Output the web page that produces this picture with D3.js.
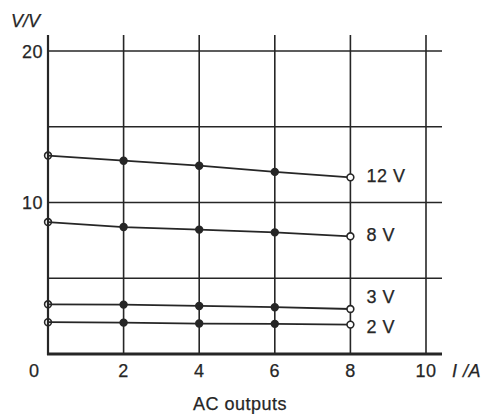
<!DOCTYPE html>
<html><head><meta charset="utf-8">
<script src="https://cdn.jsdelivr.net/npm/d3@7/dist/d3.min.js"></script>
<style>
html,body{margin:0;padding:0;background:#fff;}
svg{display:block;font-family:"Liberation Sans",Arial,Helvetica,sans-serif;}
svg text{stroke:#262626;stroke-width:0.25px;}
</style></head>
<body>
<svg id="chart" width="496" height="414"></svg>
<script>
const currents = [0, 2, 4, 6, 8];
const v12 = [13.1, 12.76, 12.43, 12.02, 11.66];
const v8 = [8.71, 8.38, 8.21, 8.03, 7.77];
const v3 = [3.28, 3.26, 3.17, 3.09, 2.97];
const v2 = [2.10, 2.07, 2.01, 1.99, 1.94];
const seriesNames = ["12 V", "8 V", "3 V", "2 V"];
const seriesValues = [v12, v8, v3, v2];
const xTicks = [2, 4, 6, 8, 10];
const yTicks = [10, 20];
const yGrid = [5, 10, 15, 20];
const xTitle = "I /A";
const yTitle = "V/V";
const caption = "AC outputs";

const svg = d3.select("#chart");
const ink = "#262626";
const x = d3.scaleLinear().domain([0, 10]).range([48, 426]);
const y = d3.scaleLinear().domain([0, 20]).range([354, 51]);
const plotRight = 442, plotTop = 35;
const font = "18px";

// vertical grid lines
svg.append("g").selectAll("line").data(xTicks).join("line")
  .attr("x1", d => x(d)).attr("x2", d => x(d))
  .attr("y1", plotTop).attr("y2", y(0))
  .attr("stroke", ink).attr("stroke-width", 1.6);
// horizontal grid lines
svg.append("g").selectAll("line").data(yGrid).join("line")
  .attr("x1", x(0)).attr("x2", plotRight)
  .attr("y1", d => y(d)).attr("y2", d => y(d))
  .attr("stroke", ink).attr("stroke-width", 1.6);
// axes
svg.append("line").attr("x1", x(0)).attr("x2", x(0)).attr("y1", plotTop).attr("y2", y(0) + 1)
  .attr("stroke", ink).attr("stroke-width", 2.2);
svg.append("line").attr("x1", x(0) - 1).attr("x2", plotRight).attr("y1", y(0)).attr("y2", y(0))
  .attr("stroke", ink).attr("stroke-width", 2.8);

// tick labels
svg.append("g").selectAll("text").data(xTicks).join("text")
  .attr("x", d => x(d)).attr("y", 377).attr("text-anchor", "middle")
  .attr("font-size", font).attr("letter-spacing", "0.5px").attr("fill", ink).text(d => d);
svg.append("text").attr("x", x(0) - 14).attr("y", 377).attr("text-anchor", "middle")
  .attr("font-size", font).attr("fill", ink).text("0");
svg.append("g").selectAll("text").data(yTicks).join("text")
  .attr("x", 43).attr("y", d => y(d) + 6.5).attr("text-anchor", "end")
  .attr("font-size", font).attr("letter-spacing", "0.5px").attr("fill", ink).text(d => d);

// titles
svg.append("text").attr("x", 11).attr("y", 27).attr("font-size", font)
  .attr("font-style", "italic").attr("fill", ink).text(yTitle);
svg.append("text").attr("x", 452).attr("y", 377).attr("font-size", font)
  .attr("font-style", "italic").attr("letter-spacing", "0.5px").attr("fill", ink).text(xTitle);
svg.append("text").attr("x", 240).attr("y", 410).attr("text-anchor", "middle")
  .attr("font-size", font).attr("letter-spacing", "0.5px").attr("fill", ink).text(caption);

// series
const line = d3.line().x((d, i) => x(currents[i])).y(d => y(d));
const labelDy = [5, 5, -6, 8];
seriesValues.forEach((vals, si) => {
  svg.append("path").attr("d", line(vals)).attr("fill", "none")
    .attr("stroke", ink).attr("stroke-width", 1.8);
  svg.append("g").selectAll("circle").data(vals).join("circle")
    .attr("cx", (d, i) => x(currents[i])).attr("cy", d => y(d)).attr("r", 3.4)
    .attr("fill", (d, i) => i === 0 ? "none" : (i === vals.length - 1 ? "#fff" : ink))
    .attr("stroke", ink).attr("stroke-width", 1.6);
  svg.append("text").attr("x", x(currents[currents.length - 1]) + 16)
    .attr("y", y(vals[vals.length - 1]) + labelDy[si])
    .attr("font-size", font).attr("letter-spacing", "0.5px").attr("fill", ink)
    .text(seriesNames[si]);
});
</script>
</body></html>
